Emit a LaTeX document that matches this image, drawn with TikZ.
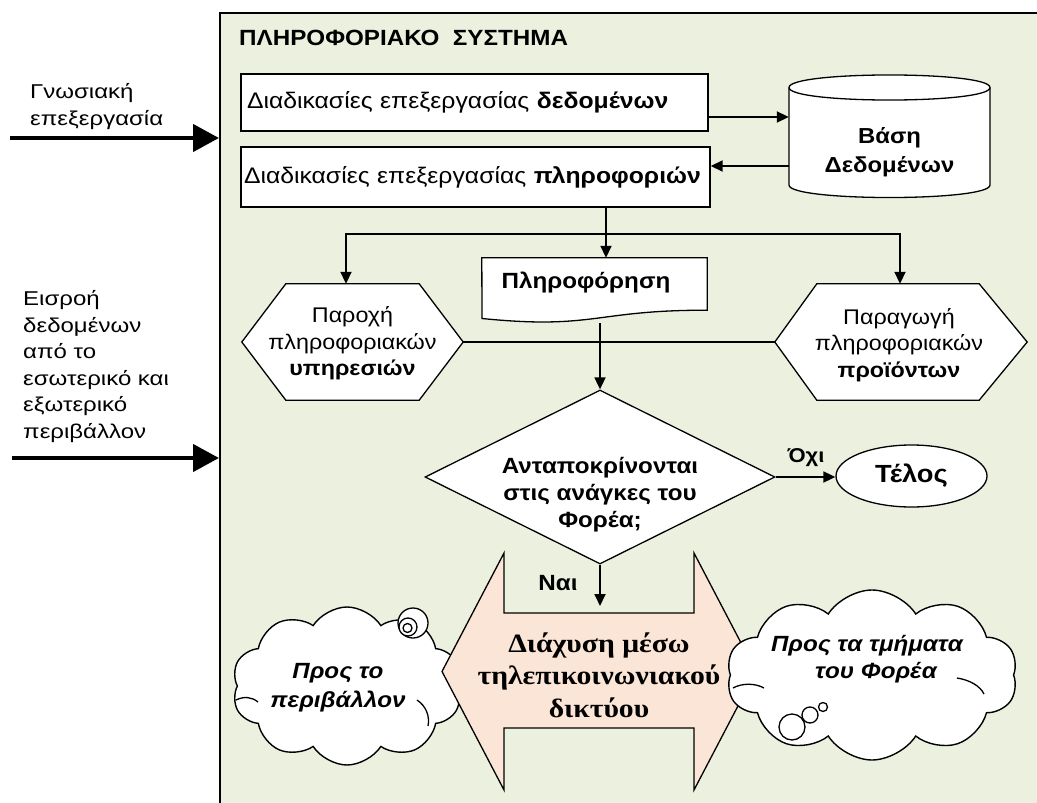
\documentclass[tikz,border=0pt]{standalone}
\usepackage{fontspec}
\setmainfont[FakeStretch=1.1]{Liberation Sans}
\newfontfamily\sidefont[FakeStretch=1.2]{Liberation Sans}
\newfontfamily\timesgr[FakeStretch=1.12]{Liberation Serif}
\usetikzlibrary{arrows.meta,shapes.geometric,shapes.symbols}

\definecolor{panelgreen}{RGB}{235,241,222}
\definecolor{peach}{RGB}{251,229,214}

\newcommand{\fsz}[2]{\fontsize{#1}{#2}\selectfont}

\begin{document}
\begin{tikzpicture}[x=1pt,y=-1pt,
  every node/.style={inner sep=0pt},
  txt/.style={font=\fsz{21.2}{26.5}},
  boxtxt/.style={font=\fsz{22.5}{27}},
  boxed/.style={draw, line width=1.4pt, fill=white},
  shapeline/.style={draw, line width=1.3pt, fill=white},
  conn/.style={line width=1.8pt},
  tip/.tip={Triangle[length=12pt,width=11pt]},
  arr/.style={conn, -tip},
  inarr/.style={line width=4.5pt, -{Triangle[length=26pt,width=27pt]}},
  cloudy/.style={cloud, cloud puffs=10, cloud puff arc=115, cloud ignores aspect, draw, line width=1.4pt, fill=white},
  bubble/.style={draw, line width=1.3pt, fill=white},
  crease/.style={line width=1.3pt},
]
\clip (0,0) rectangle (1037,803);
\fill[white] (0,0) rectangle (1037,803);

% information system panel
\node[draw, line width=2pt, fill=panelgreen, anchor=north west, minimum width=840pt, minimum height=820pt] (panel) at (219,12) {};
\node[anchor=base west, font=\bfseries\fsz{22}{27}] (title) at (239,45.5) {ΠΛΗΡΟΦΟΡΙΑΚΟ\ \ ΣΥΣΤΗΜΑ};

% inputs from outside
\node[anchor=west, align=left, font=\sidefont\fsz{20}{27}] (cog) at (30,106.5) {Γνωσιακή\\επεξεργασία};
\node[anchor=west, align=left, font=\sidefont\fsz{20}{26.6}] (inflow) at (23,366.5) {Εισροή\\δεδομένων\\από το\\εσωτερικό και\\εξωτερικό\\περιβάλλον};
\coordinate (inA) at (10,138);
\coordinate (inB) at (12,458);
\draw[inarr] (inA) -- (inA -| panel.west);
\draw[inarr] (inB) -- (inB -| panel.west);

% processing boxes
\node[boxed, boxtxt, minimum width=467pt, minimum height=57pt, text width=455pt, inner xsep=6pt, align=left] (box1) at (474.5,102.5) {Διαδικασίες επεξεργασίας \textbf{δεδομένων}};
\node[boxed, boxtxt, minimum width=469pt, minimum height=60pt, text width=463pt, inner xsep=3pt, align=left] (box2) at (475.5,177) {Διαδικασίες επεξεργασίας \textbf{πληροφοριών}};

% database cylinder
\node[minimum width=201pt, minimum height=122pt] (db) at (889.5,136) {};
\draw[shapeline] (789,87.5) -- (789,185) .. controls (789,201.7) and (990,201.7) .. (990,185)
  -- (990,87.5) .. controls (990,70.8) and (789,70.8) .. (789,87.5) -- cycle;
\draw[line width=1.3pt] (789,87.5) .. controls (789,104.2) and (990,104.2) .. (990,87.5);
\node[font=\bfseries\fsz{21.7}{29}, align=center] (dbtext) at (889.5,152.5) {Βάση\\Δεδομένων};

\coordinate (lvlA) at (750,117);
\coordinate (lvlB) at (750,166);
\draw[arr] (box1.east |- lvlA) -- (db.west |- lvlA);
\draw[arr] (db.west |- lvlB) -- (box2.east |- lvlB);

% information document
\node[minimum width=225pt, minimum height=52pt] (info) at (594.5,284) {};
\draw[shapeline] (info.north west) -- (info.north east) -- (info.south east)
  .. controls (594.5,310) and (594.5,329.8) .. (482,318.5) -- cycle;
\node[font=\bfseries\fsz{22}{25}] (infotext) at (586,283) {Πληροφόρηση};

% services / products
\node[minimum width=221pt, minimum height=116pt] (hexL) at (352.5,342) {};
\node[minimum width=252pt, minimum height=116pt] (hexR) at (901,342) {};
\draw[line width=1.3pt] (hexL.east) -- (hexR.west);
\draw[shapeline] (hexL.west) -- ([xshift=44pt]hexL.north west) -- ([xshift=-44pt]hexL.north east)
  -- (hexL.east) -- ([xshift=-44pt]hexL.south east) -- ([xshift=44pt]hexL.south west) -- cycle;
\draw[shapeline] (hexR.west) -- ([xshift=42pt]hexR.north west) -- ([xshift=-48pt]hexR.north east)
  -- (hexR.east) -- ([xshift=-48pt]hexR.south east) -- ([xshift=42pt]hexR.south west) -- cycle;
\node[txt, align=center] (hexLtext) at (352.5,343.5) {Παροχή\\πληροφοριακών\\\textbf{υπηρεσιών}};
\node[txt, align=center] (hexRtext) at (899,345) {Παραγωγή\\πληροφοριακών\\\textbf{προϊόντων}};

\coordinate (split) at (606,234);
\coordinate (legL) at (346,234);
\coordinate (legR) at (900,234);
\draw[arr] (box2.south -| split) -- (info.north -| split);
\draw[conn, tip-tip] (legL |- hexL.north) -- (legL) -- (legR) -- (legR |- hexR.north);

% decision
\node[diamond, shapeline, minimum width=350pt, minimum height=174pt, aspect=2] (dec) at (600,477) {};
\node[font=\bfseries\fsz{22}{27}, align=center] (dectext) at (600,495) {Ανταποκρίνονται\\στις ανάγκες του\\Φορέα;};
\coordinate (infoOut) at (600,323);
\draw[arr] (infoOut) -- (dec.north);

\node[ellipse, shapeline, minimum width=151pt, minimum height=62pt, font=\bfseries\fsz{24.8}{30}] (end) at (911.5,476) {Τέλος};
\draw[arr] (dec.east) -- (dec.east -| end.west);
\node[font=\bfseries\fsz{20}{24}] (no) at (806,458) {Όχι};

\coordinate (yesEnd) at (600,606);
\draw[arr] (dec.south) -- (yesEnd);
\node[font=\bfseries\fsz{22}{24}] (yes) at (558,583) {Ναι};

% left cloud with its curl
\node[cloudy, minimum width=230pt, minimum height=158pt] (cloudL) at (347,686) {};
\draw[crease] (236,700) .. controls (244,696) and (252,697) .. (258,702);
\draw[crease] (417,700) .. controls (426,706) and (430,716) .. (428,726);
\draw[bubble] (413,623) circle[radius=15pt];
\draw[bubble] (408,627) circle[radius=9pt];
\draw[bubble] (407.5,628) circle[radius=4.5pt];
\node[font=\bfseries\itshape\fsz{22}{29}, align=center] (cloudLtext) at (338,687.5) {Προς το\\περιβάλλον};

% broadcast double arrow
\node[minimum width=314pt, minimum height=237pt] (bcast) at (599,671.5) {};
\draw[line width=1.3pt, fill=peach] (442,671.5) -- (504,553) -- (504,613) -- (694,613) -- (694,553)
  -- (756,671.5) -- (694,790) -- (694,728) -- (504,728) -- (504,790) -- cycle;
\node[font=\timesgr\bfseries\fsz{26.5}{32.5}, align=center] (bcasttext) at (599,675) {Διάχυση μέσω\\τηλεπικοινωνιακού\\δικτύου};

% right cloud with thought bubbles
\node[cloudy, minimum width=291pt, minimum height=170pt] (cloudR) at (872,675) {};
\draw[crease] (733,688) .. controls (742,683) and (755,683) .. (764,688);
\draw[crease] (957,678) .. controls (970,680) and (980,686) .. (984,694);
\draw[bubble] (792,727) circle[radius=13pt];
\draw[bubble] (810,715) circle[radius=8pt];
\draw[bubble] (823,707) circle[radius=4.5pt];
\node[font=\bfseries\itshape\fsz{22}{27}, align=center] (cloudRtext) at (867,659) {Προς τα τμήματα\\\hspace*{18pt}του Φορέα};

\end{tikzpicture}
\end{document}
